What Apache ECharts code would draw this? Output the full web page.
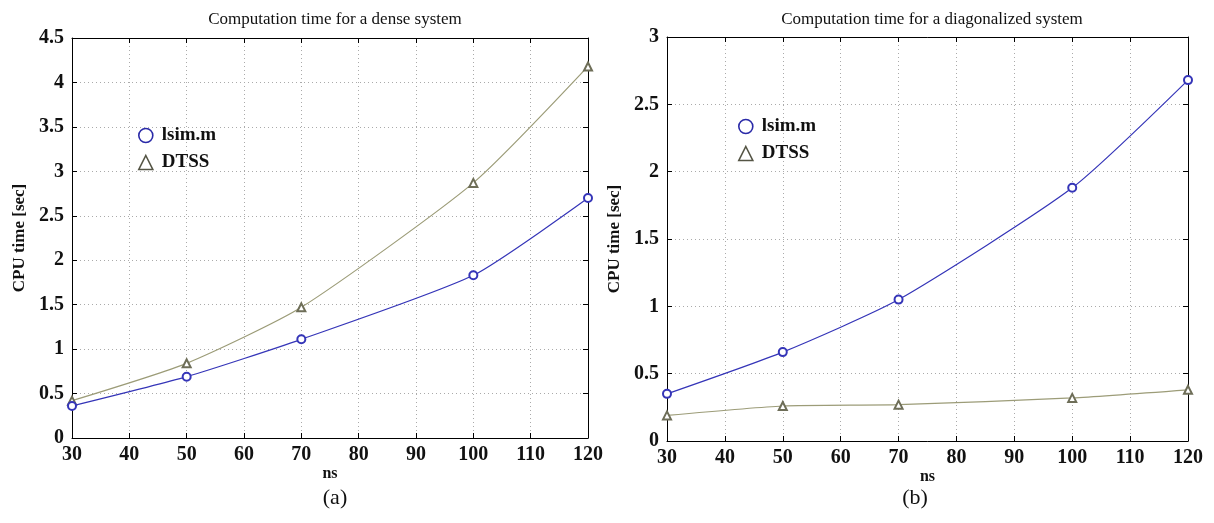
<!DOCTYPE html>
<html><head><meta charset="utf-8">
<script src="https://cdn.jsdelivr.net/npm/echarts@6/dist/echarts.min.js"></script>
<style>html,body{margin:0;padding:0;background:#fff}#c{width:1214px;height:523px}</style>
</head><body><div id="c"></div>
<script>
const ns = [30, 50, 70, 100, 120];
const denseLsim = [0.36, 0.69, 1.11, 1.83, 2.70];
const denseDtss = [0.42, 0.84, 1.47, 2.87, 4.18];
const diagLsim = [0.35, 0.66, 1.05, 1.88, 2.68];
const diagDtss = [0.19, 0.26, 0.27, 0.32, 0.38];
const titles = ['Computation time for a dense system', 'Computation time for a diagonalized system'];
const subLabels = ['(a)', '(b)'];
const seriesNames = ['lsim.m', 'DTSS'];

const FONT = '"Liberation Serif", "DejaVu Serif", serif';
const BLUE = '#3535b8';
const OLIVE = '#9c9c78';
const OLIVE_M = '#6e6e58';

const chart = echarts.init(document.getElementById('c'), null, {renderer: 'canvas'});

const grids = [
  {left: 72, right: 626, top: 38, bottom: 85},
  {left: 667, right: 26, top: 37, bottom: 82}
];
const yMax = [4.5, 3];

const xAxes = [], yAxes = [];
grids.forEach((g, i) => {
  xAxes.push({
    type: 'value', gridIndex: i, min: 30, max: 120, interval: 10,
    name: 'ns', nameLocation: 'middle', nameGap: 28, nameMoveOverlap: false,
    nameTextStyle: {fontFamily: FONT, fontSize: 16, fontWeight: 'bold', color: '#111'},
    axisLine: {show: true, lineStyle: {color: '#000', width: 1}},
    axisTick: {show: true, inside: true, length: 5, lineStyle: {color: '#000'}},
    axisLabel: {fontFamily: FONT, fontSize: 20, fontWeight: 'bold', color: '#111', margin: 7},
    splitLine: {show: true, lineStyle: {color: '#aaa', type: [1, 3], width: 1}}
  });
  xAxes.push({
    type: 'value', gridIndex: i, position: 'top', min: 30, max: 120, interval: 10,
    axisLine: {show: true, onZero: false, lineStyle: {color: '#000', width: 1}},
    axisTick: {show: true, inside: true, length: 5, lineStyle: {color: '#000'}},
    axisLabel: {show: false}, splitLine: {show: false}
  });
  yAxes.push({
    type: 'value', gridIndex: i, min: 0, max: yMax[i], interval: 0.5,
    name: 'CPU time [sec]', nameLocation: 'middle', nameGap: 44,
    nameTextStyle: {fontFamily: FONT, fontSize: 17, fontWeight: 'bold', color: '#111'},
    axisLine: {show: true, lineStyle: {color: '#000', width: 1}},
    axisTick: {show: true, inside: true, length: 5, lineStyle: {color: '#000'}},
    axisLabel: {fontFamily: FONT, fontSize: 20, fontWeight: 'bold', color: '#111', margin: 8},
    splitLine: {show: true, lineStyle: {color: '#aaa', type: [1, 3], width: 1}}
  });
  yAxes.push({
    type: 'value', gridIndex: i, position: 'right', min: 0, max: yMax[i], interval: 0.5,
    axisLine: {show: true, onZero: false, lineStyle: {color: '#000', width: 1}},
    axisTick: {show: true, inside: true, length: 5, lineStyle: {color: '#000'}},
    axisLabel: {show: false}, splitLine: {show: false}
  });
});

function pairs(xs, ys) { return xs.map((x, k) => [x, ys[k]]); }

const datasets = [[denseLsim, denseDtss], [diagLsim, diagDtss]];
const series = [];
datasets.forEach((d, i) => {
  series.push({
    name: seriesNames[0], type: 'line', xAxisIndex: 2 * i, yAxisIndex: 2 * i,
    data: pairs(ns, d[0]), smooth: 0.2, symbol: 'emptyCircle', symbolSize: 8,
    lineStyle: {color: BLUE, width: 1.2}, itemStyle: {color: BLUE, borderColor: BLUE, borderWidth: 1.2},
    z: 3
  });
  series.push({
    name: seriesNames[1], type: 'line', xAxisIndex: 2 * i, yAxisIndex: 2 * i,
    data: pairs(ns, d[1]), smooth: 0.2, symbol: 'emptyTriangle', symbolSize: 8,
    lineStyle: {color: OLIVE, width: 1.2}, itemStyle: {color: OLIVE_M, borderColor: OLIVE_M, borderWidth: 1},
    z: 2
  });
});

const legendPos = [{left: 133, top: 121}, {left: 733, top: 112}];
const legends = legendPos.map(p => ({
  left: p.left, top: p.top, orient: 'vertical', itemGap: 8, itemWidth: 14, itemHeight: 14,
  selectedMode: false,
  data: [
    {name: seriesNames[0], icon: 'circle', itemStyle: {color: 'rgba(255,255,255,0)', borderColor: '#2a2aa8', borderWidth: 1.6}},
    {name: seriesNames[1], icon: 'triangle', itemStyle: {color: 'rgba(255,255,255,0)', borderColor: '#555545', borderWidth: 1.6}}
  ],
  textStyle: {fontFamily: FONT, fontSize: 19, fontWeight: 'bold', color: '#111', padding: [0, 0, 0, 4]}
}));

chart.setOption({
  animation: false,
  backgroundColor: '#fff',
  title: [
    {text: titles[0], left: 330, top: 6, textAlign: 'center', textStyle: {fontFamily: FONT, fontSize: 17, fontWeight: 'normal', color: '#111'}},
    {text: titles[1], left: 927, top: 6, textAlign: 'center', textStyle: {fontFamily: FONT, fontSize: 17, fontWeight: 'normal', color: '#111'}},
    {text: subLabels[0], left: 330, top: 482, textAlign: 'center', textStyle: {fontFamily: FONT, fontSize: 22, fontWeight: 'normal', color: '#111'}},
    {text: subLabels[1], left: 910, top: 482, textAlign: 'center', textStyle: {fontFamily: FONT, fontSize: 22, fontWeight: 'normal', color: '#111'}}
  ],
  legend: legends,
  grid: grids,
  xAxis: xAxes,
  yAxis: yAxes,
  series: series
});
</script></body></html>
